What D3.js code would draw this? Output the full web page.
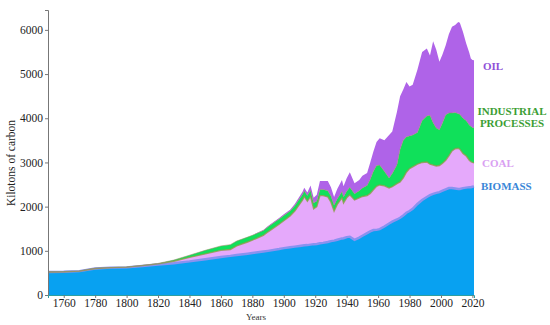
<!DOCTYPE html>
<html>
<head>
<meta charset="utf-8">
<script src="https://cdn.jsdelivr.net/npm/d3@7"></script>
<style>
  body { margin: 0; background: #fff; }
  svg { display: block; }
</style>
</head>
<body>
<div id="chart"></div>
<script>
// years (irregular steps where the series wiggles)
const years = [1750,1760,1770,1780,1790,1800,1810,1820,1830,1840,1850,1860,1866,1870,1877,1880,1887,1890,1897,
  1900,1904,1907,1910,1912,1913,1915,1917,1919,1921,1923,1925,1928,1930,1932,1934,1937,1938,1940,1942,1945,1948,
  1950,1953,1955,1957,1959,1961,1964,1967,1969,1972,1974,1976,1978,1980,1982,1985,1988,1991,1993,1995,1997,1999,
  2001,2003,2005,2007,2009,2011,2012,2014,2016,2018,2019,2020,2021];

const biomass = [520,525,540,600,620,625,655,690,720,760,810,860,885,905,935,950,985,1000,1040,
  1060,1080,1095,1110,1120,1125,1130,1140,1150,1155,1170,1180,1200,1220,1230,1250,1280,1285,1310,1320,1250,1300,
  1340,1400,1440,1470,1475,1490,1550,1620,1660,1710,1750,1800,1860,1900,1950,2060,2150,2220,2260,2290,2310,2330,
  2360,2390,2420,2420,2410,2400,2400,2420,2430,2440,2440,2450,2460];

const coal = [0,0,0,0,0,5,10,15,45,90,120,150,145,205,265,290,365,430,560,
  620,710,805,940,1030,1105,990,1090,800,845,1080,1070,1020,880,670,800,920,795,890,950,900,900,
  890,850,860,910,985,1000,920,800,790,810,810,850,920,960,950,900,850,790,700,650,610,600,
  620,660,730,840,900,920,900,780,720,610,580,550,530];

const industrial = [0,0,0,0,0,0,5,10,25,50,80,100,110,110,110,110,110,115,120,
  120,110,120,130,130,130,130,140,130,130,140,140,140,140,130,130,140,140,150,170,140,160,
  190,230,320,420,470,450,330,230,300,430,740,850,800,740,720,720,950,1040,1110,960,860,810,
  920,1030,970,860,820,780,790,800,800,800,800,790,790];

const oil = [0,0,0,0,0,0,0,0,0,0,0,0,0,0,5,5,10,15,20,
  30,30,40,50,60,70,70,110,120,140,190,190,220,200,190,220,260,240,290,340,240,240,
  280,280,380,450,530,610,700,970,950,1200,1200,1150,1240,1120,1140,1420,1550,1530,1350,1840,1770,1540,
  1550,1570,1780,1950,1980,2080,2070,1950,1750,1630,1530,1530,1530];

const yTicks = [0,1000,2000,3000,4000,5000,6000];
const xTicks = [1760,1780,1800,1820,1840,1860,1880,1900,1920,1940,1960,1980,2000,2020];

const keys = ['biomass', 'coal', 'industrial', 'oil'];
const fills = { biomass: '#08a1f1', coal: '#e5a9fb', industrial: '#10e05a', oil: '#af63e8' };
const labels = [
  { key: 'oil', lines: ['OIL'], color: '#8f50d8', dy: 6, anchor: 'start', dx: 9 },
  { key: 'industrial', lines: ['INDUSTRIAL', 'PROCESSES'], color: '#3c9e34', dy: 0, anchor: 'middle', dx: 38 },
  { key: 'coal', lines: ['COAL'], color: '#d9a0f2', dy: 0, anchor: 'start', dx: 8 },
  { key: 'biomass', lines: ['BIOMASS'], color: '#3a86d8', dy: 0, anchor: 'start', dx: 7 }
];

const width = 550, height = 325;
const serif = '"Liberation Serif", "Times New Roman", serif';

const rows = years.map((yr, i) => ({
  year: yr, biomass: biomass[i], coal: coal[i], industrial: industrial[i], oil: oil[i]
}));

const svg = d3.select('#chart').append('svg')
  .attr('width', width)
  .attr('height', height);

const x = d3.scaleLinear().domain([1750, 2021]).range([48, 474]);
const y = d3.scaleLinear().domain([0, 6450]).range([295, 10]);

const series = d3.stack().keys(keys)(rows);

const area = d3.area()
  .x(d => x(d.data.year))
  .y0(d => y(d[0]))
  .y1(d => y(d[1]));

// Couches
svg.append('g')
  .selectAll('path')
  .data(series)
  .enter()
  .append('path')
  .attr('d', area)
  .attr('fill', d => fills[d.key]);

// Lignes de bord entre couches
const topLine = d3.line()
  .x(d => x(d.data.year))
  .y(d => y(d[1]));

const edges = { biomass: ['#8a92f0', 2.4, 1], coal: ['#8c9a48', 1.4, 0.8], industrial: ['#a08a6a', 1, 0.55] };
series.filter(s => edges[s.key]).forEach(s => {
  svg.append('path')
    .attr('d', topLine(s))
    .attr('fill', 'none')
    .attr('stroke', edges[s.key][0])
    .attr('stroke-width', edges[s.key][1])
    .attr('opacity', edges[s.key][2]);
});

// Axe Y
const yAxis = svg.append('g')
  .attr('transform', 'translate(48,0)')
  .call(d3.axisLeft(y).tickValues(yTicks).tickSize(3).tickPadding(2).tickFormat(d3.format('d')))
  .attr('font-family', serif)
  .attr('font-size', 11.5);
yAxis.select('.domain').attr('stroke', '#777');
yAxis.selectAll('.tick line').attr('stroke', '#777');
yAxis.selectAll('.tick text').attr('fill', '#222');

// Axe X
const xAxis = svg.append('g')
  .attr('transform', 'translate(0,295)')
  .call(d3.axisBottom(x).tickValues(xTicks).tickSize(3).tickPadding(1).tickFormat(d3.format('d')))
  .attr('font-family', serif)
  .attr('font-size', 11.5);
xAxis.select('.domain').attr('stroke', '#2f9fa0');
xAxis.selectAll('.tick line').attr('stroke', '#777');
xAxis.selectAll('.tick text').attr('fill', '#222');

// Titres des axes
svg.append('text')
  .attr('transform', 'translate(15,163) rotate(-90)')
  .attr('text-anchor', 'middle')
  .attr('font-family', serif)
  .attr('font-size', 11.5)
  .attr('fill', '#222')
  .text('Kilotons of carbon');

svg.append('text')
  .attr('x', 256)
  .attr('y', 320)
  .attr('text-anchor', 'middle')
  .attr('font-family', serif)
  .attr('font-size', 9)
  .attr('fill', '#333')
  .text('Years');

// Etiquettes des séries, placées au sommet de la dernière valeur
const last = series.map(s => ({ key: s.key, top: s[s.length - 1][1], bottom: s[s.length - 1][0] }));
labels.forEach(l => {
  const s = last.find(v => v.key === l.key);
  const ym = l.key === 'industrial' ? (y(s.top) + y(s.bottom)) / 2 - 28 : y(s.top);
  const t = svg.append('text')
    .attr('x', 474 + l.dx)
    .attr('y', ym + l.dy)
    .attr('text-anchor', l.anchor)
    .attr('font-family', serif)
    .attr('font-size', 11)
    .attr('font-weight', 'bold')
    .attr('fill', l.color);
  l.lines.forEach((line, i) => {
    t.append('tspan')
      .attr('x', 474 + l.dx)
      .attr('dy', i === 0 ? (l.lines.length > 1 ? -2 : 4) : 12)
      .text(line);
  });
});
</script>
</body>
</html>
